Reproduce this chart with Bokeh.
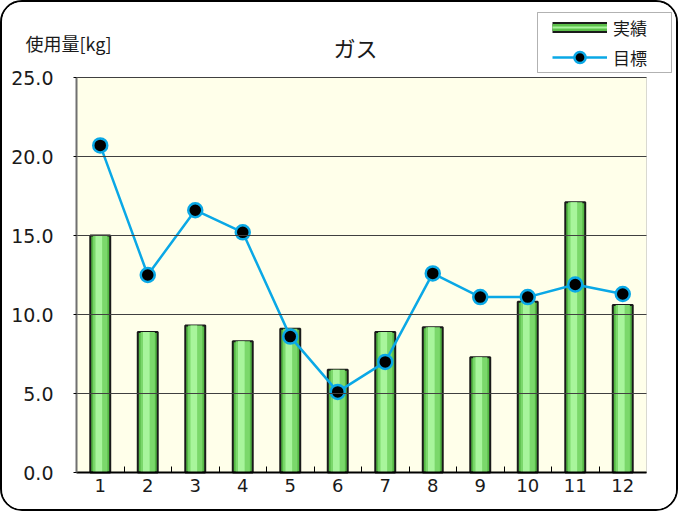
from bokeh.plotting import figure
from bokeh.models import (FixedTicker, Label, Legend, LegendItem, Range1d,
                          ColumnDataSource, BoxAnnotation)
from bokeh.transform import dodge
from bokeh.embed import file_html
from bokeh.resources import INLINE

months = [1, 2, 3, 4, 5, 6, 7, 8, 9, 10, 11, 12]
month_labels = ["1", "2", "3", "4", "5", "6", "7", "8", "9", "10", "11", "12"]
actual = [15.0, 8.9, 9.3, 8.3, 9.1, 6.5, 8.9, 9.2, 7.3, 10.8, 17.1, 10.6]
target = [20.7, 12.5, 16.6, 15.2, 8.6, 5.1, 7.0, 12.6, 11.1, 11.1, 11.9, 11.3]
y_ticks = [0, 5, 10, 15, 20, 25]
title_text = "ガス"
unit_text = "使用量[kg]"
legend_labels = ["実績", "目標"]

JP = "Noto Sans CJK JP"
NUM = "DejaVu Sans"
BLUE = "#0AA8E6"
CREAM = "#FFFFEA"

# layout (pixels): canvas size and where the plot area sits inside it
CW, CH = 678, 511
AREA_L, AREA_R, AREA_T, AREA_B = 74, 644, 75, 470
X0, X1 = 0.5, 12.5
Y0, Y1 = 0, 25
xpp = (X1 - X0) / (AREA_R - AREA_L)
ypp = (Y1 - Y0) / (AREA_B - AREA_T)
x_range = Range1d(X0 - AREA_L * xpp, X1 + (CW - AREA_R) * xpp)
y_range = Range1d(Y0 - (CH - AREA_B) * ypp, Y1 + AREA_T * ypp)


def px_x(sx):
    return x_range.start + sx * xpp


def px_y(sy):  # sy measured from canvas top
    return y_range.end - sy * ypp


src = ColumnDataSource(dict(x=months, actual=actual, target=target))

p = figure(width=CW, height=CH, output_backend="svg", toolbar_location=None,
           x_range=x_range, y_range=y_range, min_border=0)
p.background_fill_color = "white"
p.border_fill_color = "white"
p.outline_line_color = None

# plot area background
p.add_layout(BoxAnnotation(left=X0, right=X1, bottom=Y0, top=Y1,
                           fill_color=CREAM, fill_alpha=1,
                           line_color="#808080", line_width=1, level="underlay"))

p.xgrid.grid_line_color = None
p.ygrid.grid_line_color = "#404040"
p.ygrid.grid_line_width = 1
p.ygrid.cross_bounds = (X0, X1)
p.ygrid.level = "glyph"

p.vbar(x="x", top="actual", width=0.42, source=src,
       fill_color="#55B845", line_color="#1A1A1A", line_width=2)
p.vbar(x="x", top="actual", width=0.30, source=src,
       fill_color="#7BD86B", line_color=None)
p.vbar(x=dodge("x", -0.03, range=p.x_range), top="actual", width=0.14, source=src,
       fill_color="#A8F59C", line_color=None)

line = p.line(x="x", y="target", source=src, line_color=BLUE, line_width=2.5)
pts = p.scatter(x="x", y="target", source=src, size=14, fill_color="black",
                line_color=BLUE, line_width=2.5)

# axes
p.xaxis.fixed_location = Y0
p.xaxis.bounds = (X0, X1)
p.xaxis.ticker = FixedTicker(ticks=months,
                             minor_ticks=[m + 0.5 for m in months[:-1]])
p.xaxis.major_label_overrides = {m: s for m, s in zip(months, month_labels)}
p.xaxis.major_tick_in = 0
p.xaxis.major_tick_out = 0
p.xaxis.minor_tick_in = 6
p.xaxis.minor_tick_out = 0
p.xaxis.minor_tick_line_color = "black"
p.xaxis.axis_line_color = "black"
p.xaxis.axis_line_width = 2
p.xaxis.major_label_text_font = NUM
p.xaxis.major_label_text_font_size = "18px"
p.xaxis.major_label_text_color = "#1A1A1A"
p.xaxis.major_label_standoff = 6

p.yaxis.fixed_location = X0
p.yaxis.bounds = (Y0, Y1)
p.yaxis.ticker = FixedTicker(ticks=y_ticks, minor_ticks=[])
p.yaxis.major_label_overrides = {t: f"{t:.1f}" for t in y_ticks}
p.yaxis.major_tick_in = 0
p.yaxis.major_tick_out = 3
p.yaxis.axis_line_color = "#707070"
p.yaxis.axis_line_width = 2
p.yaxis.major_label_text_font = NUM
p.yaxis.major_label_text_font_size = "19px"
p.yaxis.major_label_text_color = "#1A1A1A"
p.yaxis.major_label_standoff = 20

# title and unit label
p.add_layout(Label(x=353, y=CH - 44, x_units="screen", y_units="screen",
                   text=title_text, text_font=JP, text_font_size="22px",
                   text_align="center", text_baseline="middle",
                   text_color="#1A1A1A"))
p.add_layout(Label(x=23, y=CH - 40, x_units="screen", y_units="screen",
                   text=unit_text, text_font=JP, text_font_size="18px",
                   text_align="left", text_baseline="middle",
                   text_color="#1A1A1A"))

# legend box
p.add_layout(BoxAnnotation(left=px_x(535), right=px_x(669), top=px_y(10),
                           bottom=px_y(70), fill_color="white", fill_alpha=1,
                           line_color="black", line_width=1, level="overlay"))

# legend swatch for the bars: thick lines shifted far outside the view
off = dodge("x", -1000, range=p.x_range)
lg_out = p.line(x=off, y="actual", source=src, line_color="#1A1A1A", line_width=11)
lg_mid = p.line(x=off, y="actual", source=src, line_color="#5CBF4A", line_width=7)
lg_hi = p.line(x=off, y="actual", source=src, line_color="#A8F59C", line_width=2)

legend = Legend(items=[LegendItem(label=legend_labels[0], renderers=[lg_out, lg_mid, lg_hi]),
                       LegendItem(label=legend_labels[1], renderers=[line, pts])],
                location=(550, CH - 69), orientation="vertical")
legend.border_line_color = None
legend.background_fill_alpha = 0
legend.label_text_font = JP
legend.label_text_font_size = "17px"
legend.label_text_color = "#1A1A1A"
legend.glyph_width = 55
legend.glyph_height = 28
legend.label_height = 28
legend.label_width = 40
legend.label_standoff = 6
legend.padding = 0
legend.spacing = 2
legend.margin = 0
p.add_layout(legend, "center")

p.styles = {"border": "2px solid black", "border-radius": "22px",
            "overflow": "hidden"}

open("out.html", "w").write(file_html(p, INLINE))
